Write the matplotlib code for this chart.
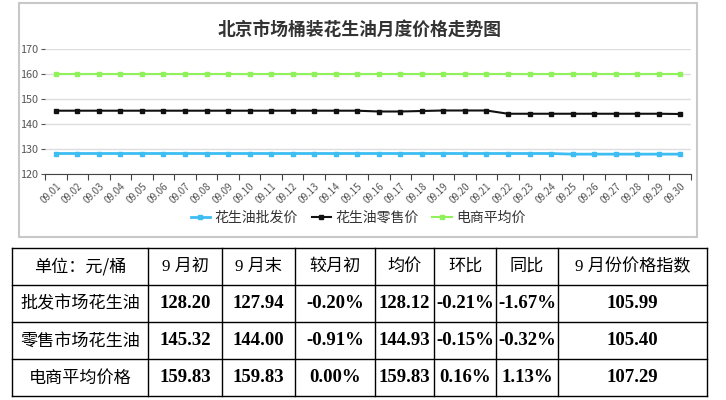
import matplotlib
matplotlib.use("Agg")
import matplotlib.pyplot as plt
from matplotlib.patches import Rectangle

plt.rcParams['font.family'] = ['Noto Sans CJK SC', 'DejaVu Sans']

# Data
dates = ['09.%02d' % d for d in range(1, 31)]
wholesale = [128.20] * 24 + [127.94] * 6
retail = [145.32] * 15 + [145.0, 145.0, 145.2, 145.4, 145.4, 145.4] + [144.1] * 8 + [144.00]
ecommerce = [159.83] * 30
series_names = ['花生油批发价', '花生油零售价', '电商平均价']
series_colors = ['#3dbdf2', '#111111', '#8ff25a']

header = ['单位：元/桶', '9 月初', '9 月末', '较月初', '均价', '环比', '同比', '9 月份价格指数']
row_names = ['批发市场花生油', '零售市场花生油', '电商平均价格']
table_vals = [
    ['128.20', '127.94', '-0.20%', '128.12', '-0.21%', '-1.67%', '105.99'],
    ['145.32', '144.00', '-0.91%', '144.93', '-0.15%', '-0.32%', '105.40'],
    ['159.83', '159.83', '0.00%', '159.83', '0.16%', '1.13%', '107.29'],
]

W, H = 726, 400
fig = plt.figure(figsize=(W / 100, H / 100), dpi=100)

# chart frame
fig.patches.append(Rectangle((19 / W, 1 - 237 / H), (697 - 19) / W, (237 - 3) / H,
                             transform=fig.transFigure, fill=False,
                             edgecolor='#c8c8c8', linewidth=1.5))
fig.text(360 / W, 1 - 30 / H, '北京市场桶装花生油月度价格走势图', ha='center', va='center',
         fontsize=12.8, fontweight='bold', color='#333333')

ax = fig.add_axes([45 / W, 1 - 174 / H, (691 - 45) / W, (174 - 49) / H])
x = list(range(len(dates)))
for vals, name, col, lw in zip([wholesale, retail, ecommerce], series_names, series_colors, [2.0, 1.5, 1.5]):
    ax.plot(x, vals, color=col, linewidth=lw, marker='s', markersize=3, label=name)

ax.set_xlim(-0.5, len(dates) - 0.5)
ax.set_ylim(120, 170)
ax.set_yticks(range(120, 171, 10))
ax.tick_params(axis='y', labelsize=7.8, colors='#555555', length=3, width=0.8, pad=2)
ax.set_xticks(x)
ax.set_xticklabels(dates, rotation=45, ha='right', rotation_mode='anchor', fontsize=7, color='#555555')
ax.set_xticks([i - 0.5 for i in range(len(dates) + 1)], minor=True)
ax.tick_params(axis='x', which='major', length=0, pad=5)
ax.tick_params(axis='x', which='minor', length=4, width=0.8, color='#444444')
ax.grid(axis='y', color='#dddddd', linewidth=1)
ax.set_axisbelow(True)
for s in ['top', 'right', 'left']:
    ax.spines[s].set_visible(False)
ax.spines['bottom'].set_color('#444444')

fig.legend(loc='center', bbox_to_anchor=(358 / W, 1 - 218 / H), ncol=3, frameon=False,
           fontsize=10, handlelength=1.4, handletextpad=0.3, columnspacing=1.0,
           labelcolor='#333333')

# table
tax = fig.add_axes([0, 0, 1, 1])
tax.set_xlim(0, W)
tax.set_ylim(H, 0)
tax.axis('off')
cols = [12, 148, 222, 295, 375, 434, 496, 558, 707]
rows = [248, 285, 322, 359, 396]
for cx in cols:
    tax.plot([cx, cx], [rows[0], rows[-1]], color='black', linewidth=1)
for ry in rows:
    tax.plot([cols[0], cols[-1]], [ry, ry], color='black', linewidth=1)

mixed = ['Liberation Serif', 'Noto Sans CJK SC']
for j, txt in enumerate(header):
    tax.text((cols[j] + cols[j + 1]) / 2, (rows[0] + rows[1]) / 2, txt, ha='center', va='center',
             fontsize=12.3, family=mixed if j else 'Noto Sans CJK SC')
for i, name in enumerate(row_names):
    cy = (rows[i + 1] + rows[i + 2]) / 2
    tax.text((cols[0] + cols[1]) / 2, cy, name, ha='center', va='center', fontsize=12.3)
    for j, v in enumerate(table_vals[i]):
        tax.text((cols[j + 1] + cols[j + 2]) / 2, cy, v, ha='center', va='center',
                 fontsize=13.5, fontweight='bold', family='Liberation Serif')

fig.savefig('out.png', dpi=100)
